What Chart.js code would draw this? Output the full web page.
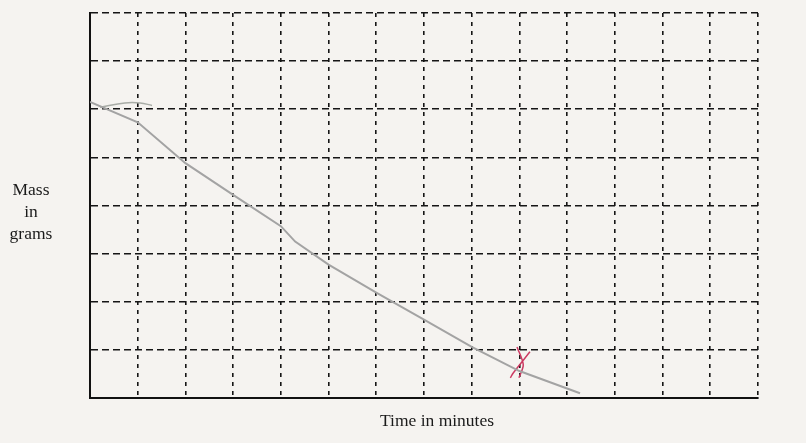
<!DOCTYPE html>
<html>
<head>
<meta charset="utf-8">
<script src="https://cdn.jsdelivr.net/npm/chart.js@4.4.0/dist/chart.umd.min.js"></script>
<style>
  html, body { margin: 0; padding: 0; background: #f5f3f0; }
  #wrap { position: relative; width: 806px; height: 443px; }
  canvas { display: block; }
</style>
</head>
<body>
<div id="wrap"><canvas id="c" width="806" height="443"></canvas></div>
<script>
// Grid: 14 columns of time, 8 rows of mass (no numeric ticks on the original)
const xMax = 14;
const yMax = 8;
const xLabel = "Time in minutes";
const yLabelLines = ["Mass", "in", "grams"];

// Hand-drawn curve (grid units)
const curveTime = [0.0, 1, 2, 3, 4, 4.3, 5, 6, 7, 8, 9, 10.27];
const curveMass = [6.15, 5.73, 4.88, 4.22, 3.57, 3.25, 2.77, 2.19, 1.63, 1.06, 0.56, 0.10];

// Small hand-drawn tick near the start of the curve
const tickTime = [0.21, 0.73, 1.05, 1.3];
const tickMass = [6.04, 6.13, 6.13, 6.08];

// Red hand-drawn "X" mark (two strokes)
const markTime = [8.95, 9.08, 8.99, null, 9.22, 8.87, 8.81];
const markMass = [1.06, 0.69, 0.42, null, 0.96, 0.52, 0.42];

const toPts = (xs, ys) => xs.map((x, i) => (x === null ? { x: null, y: null } : { x: x, y: ys[i] }));

const labelPlugin = {
  id: 'labels',
  afterDraw(chart) {
    const ctx = chart.ctx;
    ctx.save();
    ctx.fillStyle = '#1a1a1a';
    ctx.font = '17.5px "Liberation Serif", "DejaVu Serif", serif';
    ctx.textAlign = 'center';
    ctx.textBaseline = 'middle';
    yLabelLines.forEach((t, i) => ctx.fillText(t, 31, 190 + i * 22));
    ctx.fillText(xLabel, 437, 421);
    ctx.restore();
  }
};

new Chart(document.getElementById('c'), {
  type: 'scatter',
  data: {
    datasets: [
      {
        data: toPts(curveTime, curveMass),
        showLine: true,
        borderColor: '#a3a3a3',
        borderWidth: 2,
        pointRadius: 0,
        tension: 0
      },
      {
        data: toPts(tickTime, tickMass),
        showLine: true,
        borderColor: '#a8aca6',
        borderWidth: 1.5,
        pointRadius: 0,
        tension: 0.4
      },
      {
        data: toPts(markTime, markMass),
        showLine: true,
        spanGaps: false,
        borderColor: '#cc3a62',
        borderWidth: 1.5,
        pointRadius: 0,
        tension: 0.3
      }
    ]
  },
  options: {
    responsive: false,
    animation: false,
    layout: { padding: { left: 90, right: 48, top: 13, bottom: 45 } },
    plugins: { legend: { display: false }, tooltip: { enabled: false } },
    scales: {
      x: {
        type: 'linear', min: 0, max: xMax,
        ticks: { display: false, stepSize: 1 },
        grid: { color: '#151515', lineWidth: 1.6, drawTicks: false },
        border: { display: true, color: '#111', width: 2, dash: [4, 5] }
      },
      y: {
        type: 'linear', min: 0, max: yMax,
        ticks: { display: false, stepSize: 1 },
        grid: { color: '#151515', lineWidth: 1.6, drawTicks: false },
        border: { display: true, color: '#111', width: 2, dash: [7, 4] }
      }
    }
  },
  plugins: [labelPlugin]
});
</script>
</body>
</html>
